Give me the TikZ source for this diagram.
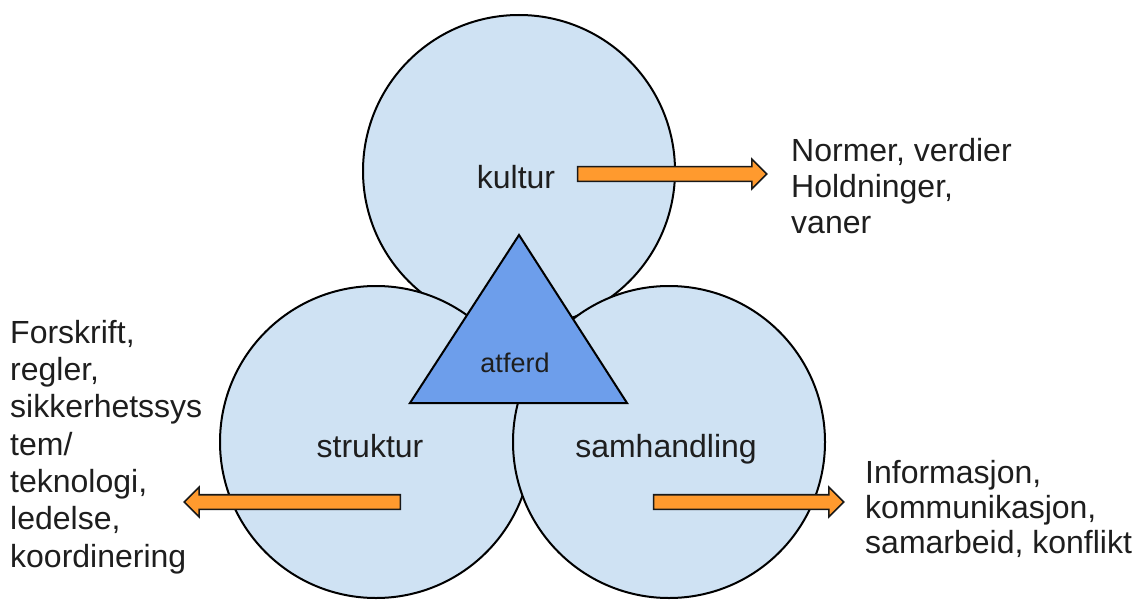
\documentclass[tikz,border=0pt]{standalone}
\usepackage{fontspec}
\setmainfont{Liberation Sans}
\usetikzlibrary{shapes.arrows}
\definecolor{circfill}{HTML}{CFE2F3}
\definecolor{trifill}{HTML}{6D9EEB}
\definecolor{arrfill}{HTML}{FF9A2E}
\definecolor{txt}{HTML}{1E1E1E}
\begin{document}
\begin{tikzpicture}[x=1pt,y=-1pt,
  circ/.style={circle, draw=black, line width=2pt, fill=circfill, minimum size=312pt, inner sep=0pt},
  tri/.style={draw=black, line width=2pt, fill=trifill, line join=miter},
  lbl/.style={font=\fontsize{32}{36}\selectfont, text=txt, inner sep=0pt, anchor=base},
  desc/.style={lbl, align=left, anchor=base west},
  fat/.style={single arrow, draw=black!90, line width=1.6pt, fill=arrfill,
    inner xsep=0pt, inner ysep=6.5pt, single arrow head extend=7.5pt,
    single arrow tip angle=90, single arrow head indent=0pt}
]
\useasboundingbox (0,0) rectangle (1139,604);
% circles
\node[circ] (kul) at (519,171) {};
\node[circ] (str) at (376,442) {};
\node[circ] (sam) at (669,442) {};
% triangle
\coordinate (apex) at (519,235);
\coordinate (bl) at (410,403);
\coordinate (br) at (627,403);
\draw[tri] (apex) -- (bl) -- (br) -- cycle;
% labels
\node[lbl] (lk) at (516,188) {kultur};
\node[lbl] (ls) at (370,457) {struktur};
\node[lbl] (lh) at (666,457) {samhandling};
\node[lbl, font=\fontsize{27}{30}\selectfont] (la) at (515,372) {atferd};
% arrows
\node[fat, minimum height=189pt] (a1) at (668.5,174) {};
\node[fat, minimum height=216pt, shape border rotate=180] (a2) at (296,502) {};
\node[fat, minimum height=190pt] (a3) at (745,502) {};
% descriptions (anchored at the baseline of their last line)
\node[desc, font=\fontsize{32}{35.5}\selectfont] (d1) at (791,233) {Normer, verdier\\Holdninger,\\vaner};
\node[desc, font=\fontsize{32}{37.3}\selectfont] (d2) at (10,567) {Forskrift,\\regler,\\sikkerhetssys\\tem/\\teknologi,\\ledelse,\\koordinering};
\node[desc, font=\fontsize{32}{35}\selectfont] (d3) at (865,553) {Informasjon,\\kommunikasjon,\\samarbeid, konflikt};
\end{tikzpicture}
\end{document}
